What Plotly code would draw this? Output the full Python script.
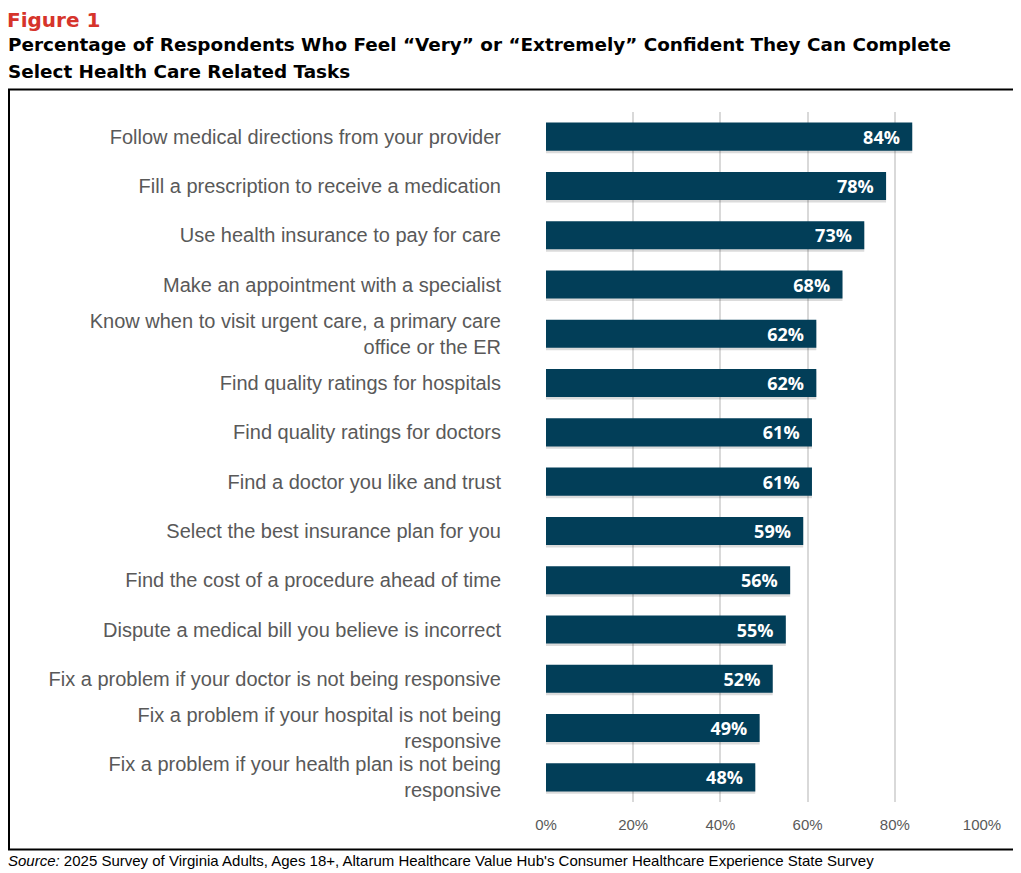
import plotly.graph_objects as go

categories = [
    "Follow medical directions from your provider",
    "Fill a prescription to receive a medication",
    "Use health insurance to pay for care",
    "Make an appointment with a specialist",
    "Know when to visit urgent care, a primary care<br>office or the ER",
    "Find quality ratings for hospitals",
    "Find quality ratings for doctors",
    "Find a doctor you like and trust",
    "Select the best insurance plan for you",
    "Find the cost of a procedure ahead of time",
    "Dispute a medical bill you believe is incorrect",
    "Fix a problem if your doctor is not being responsive",
    "Fix a problem if your hospital is not being<br>responsive",
    "Fix a problem if your health plan is not being<br>responsive",
]
values = [84, 78, 73, 68, 62, 62, 61, 61, 59, 56, 55, 52, 49, 48]
tick_vals = [0, 20, 40, 60, 80, 100]
tick_text = ["0%", "20%", "40%", "60%", "80%", "100%"]

# page body has an 8px margin; work in figure coordinates
OFF = 8
W, H = 1021 - OFF, 873 - OFF
L, R, T, B = 546 - OFF, 982 - OFF, 112.4 - OFF, 801.6 - OFF

def px(x):
    return (x - OFF - L) / (R - L)

def py(y):
    return (B - (y - OFF)) / (B - T)

BAR = "#023e58"
NB = "\u00a0"

fig = go.Figure()
# soft shadow
fig.add_trace(go.Bar(
    x=values, y=categories, orientation="h",
    marker=dict(color="rgba(0,0,0,0.14)", line=dict(width=0)),
    width=0.57, offset=-0.285 + 0.05, hoverinfo="skip",
))
fig.add_trace(go.Bar(
    x=values, y=categories, orientation="h",
    marker=dict(color=BAR, line=dict(width=0)),
    width=0.57, offset=-0.285,
    text=[f"{v}%" + NB * 2 for v in values],
    textposition="inside",
    insidetextanchor="end",
    constraintext="none",
    textfont=dict(color="white", size=18, family="Open Sans", weight="bold"),
    hoverinfo="skip",
))

fig.update_layout(
    width=W, height=H,
    barmode="overlay",
    margin=dict(l=L, r=W - R, t=T, b=H - B, pad=0),
    paper_bgcolor="white",
    plot_bgcolor="white",
    showlegend=False,
    font=dict(family="Liberation Sans", color="#595959"),
    xaxis=dict(
        range=[0, 100], tickvals=tick_vals, ticktext=tick_text,
        showgrid=True, gridcolor="#d9d9d9", gridwidth=2,
        zeroline=False, showline=False, ticks="",
        tickfont=dict(size=15, color="#595959", family="Liberation Sans"),
        ticklabelstandoff=12,
    ),
    yaxis=dict(
        autorange="reversed", showgrid=False, zeroline=False, showline=False,
        ticks="", tickfont=dict(size=20, color="#595959", family="Liberation Sans"),
        ticklabelstandoff=44,
    ),
    annotations=[
        dict(text="Figure 1", xref="paper", yref="paper", x=px(OFF - 2), y=py(OFF),
             xanchor="left", yanchor="top", showarrow=False, borderpad=0,
             font=dict(size=20, color="#d6342b", family="DejaVu Sans", weight="bold")),
        dict(text="Percentage of Respondents Who Feel \u201cVery\u201d or \u201cExtremely\u201d Confident They Can Complete",
             xref="paper", yref="paper", x=px(OFF - 2), y=py(45),
             xanchor="left", yanchor="middle", showarrow=False,
             font=dict(size=18.4, color="#000000", family="DejaVu Sans", weight="bold")),
        dict(text="Select Health Care Related Tasks",
             xref="paper", yref="paper", x=px(OFF - 2), y=py(72),
             xanchor="left", yanchor="middle", showarrow=False,
             font=dict(size=18.4, color="#000000", family="DejaVu Sans", weight="bold")),
        dict(text="<i>Source:</i> 2025 Survey of Virginia Adults, Ages 18+, Altarum Healthcare Value Hub's Consumer Healthcare Experience State Survey",
             xref="paper", yref="paper", x=px(OFF - 2), y=py(860),
             xanchor="left", yanchor="middle", showarrow=False,
             font=dict(size=15, color="#000000", family="Liberation Sans")),
    ],
    shapes=[
        dict(type="rect", xref="paper", yref="paper",
             x0=px(OFF + 1), x1=px(1014), y0=py(849), y1=py(90),
             line=dict(color="black", width=2), fillcolor="rgba(0,0,0,0)", layer="below"),
    ],
)

fig.write_html("out.html")
